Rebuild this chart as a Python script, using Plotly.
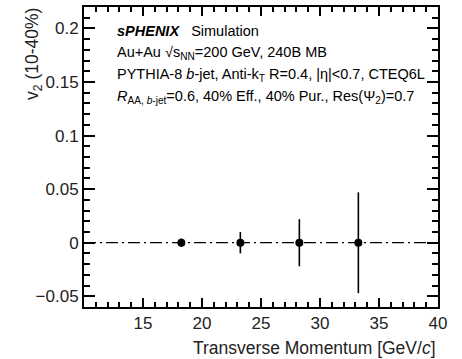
import plotly.graph_objects as go

pt = [18.25, 23.25, 28.25, 33.25]
v2 = [0.0, 0.0, 0.0, 0.0]
v2_err = [0.004, 0.010, 0.022, 0.047]

x_range = [10, 40]
y_range = [-0.06, 0.22]
ref_level = [0.0, 0.0]

x_ticks = [15, 20, 25, 30, 35, 40]
y_ticks = [-0.05, 0, 0.05, 0.1, 0.15, 0.2]
y_ticklabels = ["\u22120.05", "0", "0.05", "0.1", "0.15", "0.2"]

legend_lines = [
    "<b><i>sPHENIX</i></b>   Simulation",
    "Au+Au \u221as<sub>NN</sub>=200 GeV, 240B MB",
    "PYTHIA-8 <i>b</i>-jet, Anti-k<sub>T</sub> R=0.4, |\u03b7|<0.7, CTEQ6L",
    "<i>R</i><sub>AA, <i>b</i>-jet</sub>=0.6, 40% Eff., 40% Pur., Res(\u03a8<sub>2</sub>)=0.7",
]

FONT = "Liberation Sans"
AX = "black"

fig = go.Figure()
fig.add_trace(go.Scatter(
    x=x_range, y=ref_level, mode="lines",
    line=dict(color="black", width=1.3, dash="12px,4px,2px,4px"),
    showlegend=False, hoverinfo="skip",
))
fig.add_trace(go.Scatter(
    x=pt, y=v2, mode="markers",
    marker=dict(symbol="circle", size=8, color="black"),
    error_y=dict(type="data", array=v2_err, color="black", thickness=1.6, width=0),
    showlegend=False,
))

fig.update_xaxes(range=x_range, tickvals=x_ticks, ticklen=9,
                 showline=True, linecolor=AX, linewidth=2, mirror="ticks",
                 ticks="inside", tickcolor=AX, tickwidth=1.5,
                 tickfont=dict(family=FONT, size=17, color="#222"),
                 minor=dict(dtick=1, ticklen=5, ticks="inside"))
fig.update_yaxes(range=y_range, tickvals=y_ticks, ticktext=y_ticklabels, ticklen=11,
                 showline=True, linecolor=AX, linewidth=2, mirror="ticks",
                 ticks="inside", tickcolor=AX, tickwidth=1.5,
                 tickfont=dict(family=FONT, size=17, color="#222"),
                 minor=dict(dtick=0.01, ticklen=6, ticks="inside"))

line_y = [31, 53, 75, 97]
for txt, yp in zip(legend_lines, line_y):
    fig.add_annotation(text=txt, xref="paper", yref="paper",
                       x=(115 - 84) / 354, y=1 - (yp - 7) / 300,
                       xanchor="left", yanchor="middle", showarrow=False,
                       font=dict(family=FONT, size=14.5, color="black"))

fig.add_annotation(text="Transverse Momentum [GeV/<i>c</i>]", xref="paper", yref="paper",
                   x=1, y=-(348 - 307) / 300, xanchor="right", yanchor="middle",
                   showarrow=False, font=dict(family=FONT, size=17.5, color="#222"))
fig.add_annotation(text="v<sub>2</sub> (10-40%)", xref="paper", yref="paper",
                   x=(34 - 84) / 354, y=1 + 1 / 300, xanchor="center", yanchor="top", textangle=-90,
                   showarrow=False, font=dict(family=FONT, size=17.5, color="#222"))

fig.update_layout(
    width=462, height=359,
    margin=dict(l=84, r=24, t=7, b=52, autoexpand=False),
    template="simple_white",
)

fig.write_html("out.html")
